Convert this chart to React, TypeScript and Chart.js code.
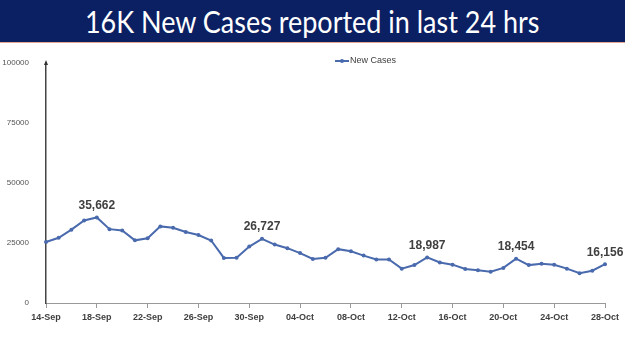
import React, { useEffect, useRef } from "react";
import { Chart, registerables } from "chart.js";

Chart.register(...registerables);

const TITLE = "16K New Cases reported in last 24 hrs";
const SERIES_NAME = "New Cases";

const dates = [
  "14-Sep", "15-Sep", "16-Sep", "17-Sep", "18-Sep", "19-Sep", "20-Sep", "21-Sep",
  "22-Sep", "23-Sep", "24-Sep", "25-Sep", "26-Sep", "27-Sep", "28-Sep", "29-Sep",
  "30-Sep", "01-Oct", "02-Oct", "03-Oct", "04-Oct", "05-Oct", "06-Oct", "07-Oct",
  "08-Oct", "09-Oct", "10-Oct", "11-Oct", "12-Oct", "13-Oct", "14-Oct", "15-Oct",
  "16-Oct", "17-Oct", "18-Oct", "19-Oct", "20-Oct", "21-Oct", "22-Oct", "23-Oct",
  "24-Oct", "25-Oct", "26-Oct", "27-Oct", "28-Oct",
];

const newCases = [
  25404, 27176, 30570, 34403, 35662, 30773, 30256, 26115,
  26964, 31923, 31382, 29616, 28326, 26041, 18795, 18870,
  23529, 26727, 24354, 22842, 20799, 18346, 18833, 22431,
  21527, 19740, 18166, 18132, 14313, 15823, 18987, 16862,
  15981, 14146, 13596, 13058, 14623, 18454, 15786, 16326,
  15906, 14306, 12428, 13451, 16156,
];

const labelledDates = ["18-Sep", "01-Oct", "14-Oct", "21-Oct", "28-Oct"];
const yTickValues = [0, 25000, 50000, 75000, 100000];

const LINE_COLOR = "#4a6aae";
const TEXT_DARK = "#404040";

export default function App() {
  const canvasRef = useRef<HTMLCanvasElement | null>(null);

  useEffect(() => {
    const canvas = canvasRef.current;
    if (!canvas) return;

    const valueLabels = {
      id: "valueLabels",
      afterDatasetsDraw(chart: any) {
        const ctx = chart.ctx;
        const meta = chart.getDatasetMeta(0);
        ctx.save();
        ctx.font = "bold 12px 'Liberation Sans', Arial, sans-serif";
        ctx.fillStyle = TEXT_DARK;
        ctx.textAlign = "center";
        ctx.textBaseline = "middle";
        labelledDates.forEach((d) => {
          const i = dates.indexOf(d);
          const pt = meta.data[i];
          if (!pt) return;
          ctx.fillText(newCases[i].toLocaleString("en-US"), pt.x, pt.y - 12);
        });
        ctx.restore();
      },
    };

    const customLegend = {
      id: "customLegend",
      afterDraw(chart: any) {
        const ctx = chart.ctx;
        const x0 = 335;
        const y0 = 61;
        ctx.save();
        ctx.strokeStyle = LINE_COLOR;
        ctx.lineWidth = 2;
        ctx.beginPath();
        ctx.moveTo(x0, y0);
        ctx.lineTo(x0 + 14, y0);
        ctx.stroke();
        ctx.fillStyle = LINE_COLOR;
        ctx.beginPath();
        ctx.arc(x0 + 7, y0, 2, 0, Math.PI * 2);
        ctx.fill();
        ctx.font = "9px 'Liberation Sans', Arial, sans-serif";
        ctx.fillStyle = TEXT_DARK;
        ctx.textAlign = "left";
        ctx.textBaseline = "middle";
        ctx.fillText(SERIES_NAME, x0 + 15, y0);
        ctx.restore();
      },
    };

    const axisArrow = {
      id: "axisArrow",
      afterDraw(chart: any) {
        const ctx = chart.ctx;
        const x = chart.chartArea.left;
        const y = chart.chartArea.top;
        ctx.save();
        ctx.fillStyle = "#333";
        ctx.beginPath();
        ctx.moveTo(x, y - 3);
        ctx.lineTo(x - 2, y + 2);
        ctx.lineTo(x + 2, y + 2);
        ctx.closePath();
        ctx.fill();
        ctx.restore();
      },
    };

    const chart = new Chart(canvas, {
      type: "line",
      data: {
        labels: dates,
        datasets: [
          {
            label: SERIES_NAME,
            data: newCases,
            borderColor: LINE_COLOR,
            backgroundColor: LINE_COLOR,
            borderWidth: 2,
            pointRadius: 2,
            pointBorderWidth: 0,
            pointBackgroundColor: LINE_COLOR,
            tension: 0,
          },
        ],
      },
      options: {
        animation: false,
        responsive: false,
        devicePixelRatio: 1,
        layout: { padding: { top: 63, right: 20, left: 0, bottom: 0 } },
        plugins: {
          legend: { display: false },
          title: { display: false },
          tooltip: { enabled: false },
        },
        scales: {
          x: {
            type: "category",
            offset: false,
            afterFit: (s: any) => {
              s.height = 48;
            },
            grid: {
              display: true,
              drawOnChartArea: false,
              drawTicks: true,
              tickLength: 5,
              color: "#999",
            },
            border: { display: true, color: "#999", width: 1 },
            ticks: {
              autoSkip: false,
              maxRotation: 0,
              minRotation: 0,
              padding: 4,
              color: TEXT_DARK,
              font: { family: "'Liberation Sans', Arial, sans-serif", size: 9, weight: "bold" },
              callback: (_v: any, i: number) => (i % 4 === 0 ? dates[i] : null),
            },
          },
          y: {
            min: 0,
            max: 100000,
            afterFit: (s: any) => {
              s.width = 46;
            },
            afterBuildTicks: (s: any) => {
              s.ticks = yTickValues.map((v) => ({ value: v }));
            },
            grid: { display: false },
            border: { display: true, color: "#444", width: 1.5 },
            ticks: {
              padding: 9,
              color: "#555",
              font: { family: "'Liberation Sans', Arial, sans-serif", size: 8 },
              callback: (v: any) => String(v),
            },
          },
        },
      },
      plugins: [valueLabels, customLegend, axisArrow],
    });

    return () => chart.destroy();
  }, []);

  return (
    <div
      style={{
        position: "fixed",
        left: 0,
        top: 0,
        width: 625,
        height: 351,
        background: "#fff",
        overflow: "hidden",
      }}
    >
      <canvas
        ref={canvasRef}
        width={625}
        height={351}
        style={{ position: "absolute", left: 0, top: 0, width: 625, height: 351 }}
      />
      <div
        style={{
          position: "absolute",
          left: 0,
          top: 0,
          width: 625,
          height: 42,
          background: "#0b1f63",
          borderBottom: "1.5px solid #e6a58f",
          color: "#fff",
          fontFamily: "Lato, 'Open Sans', sans-serif",
          fontSize: 31,
          lineHeight: "42px",
          textAlign: "center",
          whiteSpace: "nowrap",
        }}
      >
        <span style={{ display: "inline-block", transform: "scaleX(0.87)", transformOrigin: "center" }}>
          {TITLE}
        </span>
      </div>
    </div>
  );
}
